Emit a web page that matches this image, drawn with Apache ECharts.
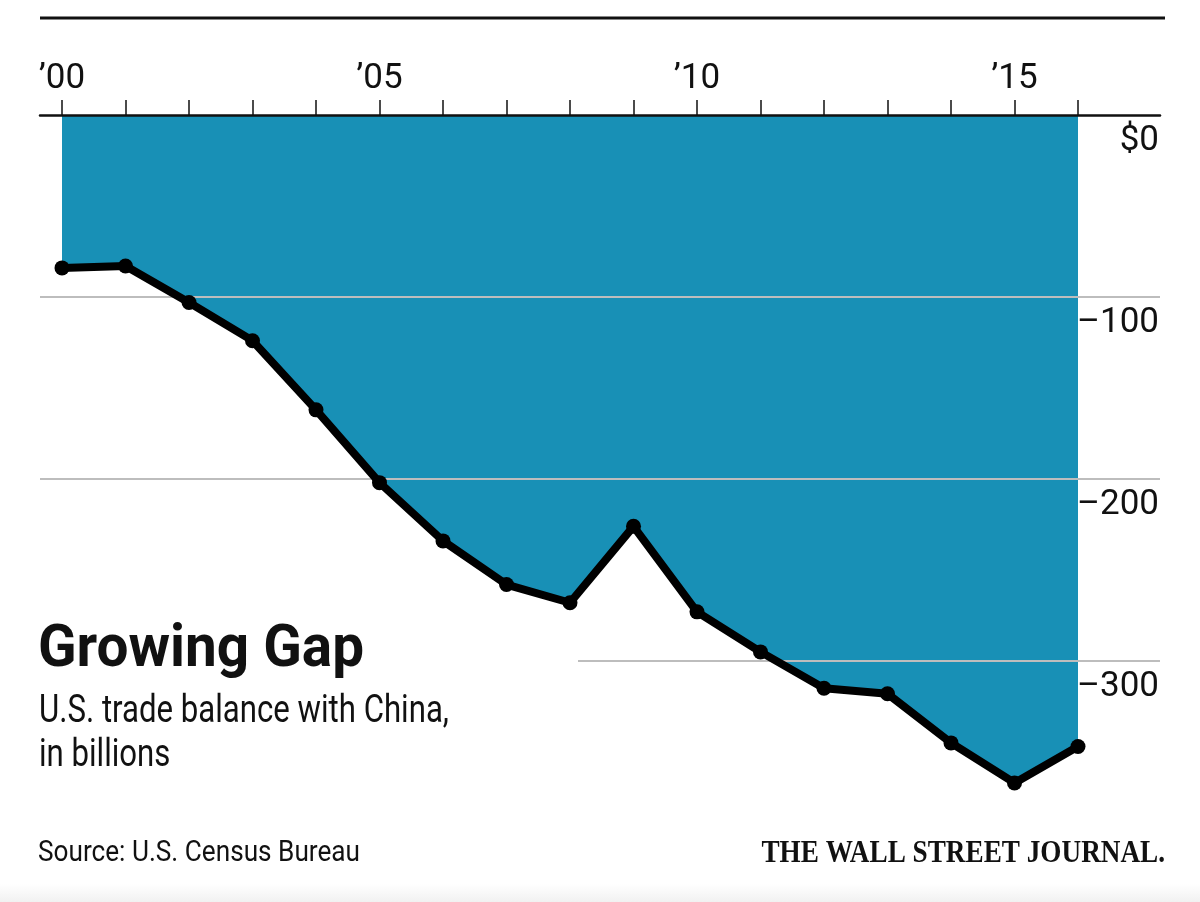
<!DOCTYPE html>
<html>
<head>
<meta charset="utf-8">
<script src="https://cdn.jsdelivr.net/npm/echarts@6/dist/echarts.min.js"></script>
<style>
html,body{margin:0;padding:0;background:#fff;}
#chart{width:1200px;height:902px;}
</style>
</head>
<body>
<div id="chart"></div>
<script>
// Data
const years = [2000,2001,2002,2003,2004,2005,2006,2007,2008,2009,2010,2011,2012,2013,2014,2015,2016];
const balance = [-84,-83,-103,-124,-162,-202,-234,-258,-268,-226,-273,-295,-315,-318,-345,-367,-347];
const xLabelYears = [2000,2005,2010,2015];
const yLabelValues = [0,-100,-200,-300];
const titleText = 'Growing Gap';
const subtitleLines = ['U.S. trade balance with China,', 'in billions'];
const sourceText = 'Source: U.S. Census Bureau';
const brandText = 'THE WALL STREET JOURNAL.';

const FONT = '"Roboto", "Open Sans", sans-serif';
const points = years.map((y, i) => [y, balance[i]]);

// horizontal condensing factor so a text line spans a target width (narrow newspaper face)
function fitScale(text, weight, size, target) {
  const ctx = document.createElement('canvas').getContext('2d');
  ctx.font = weight + ' ' + size + 'px ' + FONT;
  const w = ctx.measureText(text).width;
  return w > 0 ? target / w : 1;
}
const titleScale = fitScale(titleText, 'bold', 60, 326);
const subScale = fitScale(subtitleLines[0], 'normal', 38, 410);
const srcScale = fitScale(sourceText, 'normal', 29, 322);

const chart = echarts.init(document.getElementById('chart'), null, {renderer: 'canvas'});
chart.setOption({
  animation: false,
  backgroundColor: '#ffffff',
  grid: {left: 40, right: 40, top: 115, bottom: 59, containLabel: false},
  xAxis: {
    type: 'value',
    position: 'top',
    min: 1999.6535,
    max: 2017.2913,
    z: 2,
    axisLine: {show: true, onZero: false, lineStyle: {color: '#111', width: 2.5}},
    axisTick: {show: true, customValues: years, length: 15, inside: false, lineStyle: {color: '#111', width: 1.5}},
    axisLabel: {
      show: true,
      customValues: xLabelYears,
      formatter: v => '\u2019' + String(Math.round(v)).slice(2),
      fontFamily: FONT, fontSize: 35, color: '#111', margin: 18
    },
    splitLine: {show: false}
  },
  yAxis: {
    type: 'value',
    position: 'right',
    min: -400,
    max: 0,
    interval: 100,
    z: 2,
    axisLine: {show: false},
    axisTick: {show: false},
    axisLabel: {
      show: true,
      inside: true,
      customValues: yLabelValues,
      formatter: v => v === 0 ? '$0' : '\u2013' + Math.abs(v),
      fontFamily: FONT, fontSize: 35, color: '#111',
      verticalAlign: 'top', lineHeight: 35, padding: [9, 0, 0, 0], margin: 1
    },
    splitLine: {show: true, showMinLine: false, showMaxLine: false, lineStyle: {color: '#bdbdbd', width: 2}}
  },
  series: [
    {
      type: 'line',
      data: points,
      symbol: 'none',
      lineStyle: {width: 0},
      areaStyle: {color: '#1890b6', opacity: 1},
      z: 1,
      silent: true
    },
    {
      type: 'line',
      data: points,
      symbol: 'circle',
      symbolSize: 15,
      itemStyle: {color: '#000'},
      lineStyle: {color: '#000', width: 8, join: 'round'},
      z: 3,
      silent: true
    }
  ],
  graphic: [
    {type: 'rect', z: 10, shape: {x: 30, y: 654, width: 548, height: 14}, style: {fill: '#ffffff'}},
    {type: 'rect', z: 0, shape: {x: 0, y: 884, width: 1200, height: 18},
      style: {fill: new echarts.graphic.LinearGradient(0, 0, 0, 1, [{offset: 0, color: '#ffffff'}, {offset: 1, color: '#f1f1f1'}])}},
    {type: 'line', z: 10, shape: {x1: 40, y1: 18, x2: 1165, y2: 18}, style: {stroke: '#111', lineWidth: 3}},
    {type: 'text', z: 10, x: 38, y: 651, scaleX: titleScale, style: {text: titleText, x: 0, y: 0, fontFamily: FONT, fontWeight: 'bold', fontSize: 60, fill: '#111', align: 'left', verticalAlign: 'middle'}},
    {type: 'text', z: 10, x: 39, y: 712, scaleX: subScale, style: {text: subtitleLines[0], x: 0, y: 0, fontFamily: FONT, fontSize: 38, fill: '#111', align: 'left', verticalAlign: 'middle'}},
    {type: 'text', z: 10, x: 39, y: 756, scaleX: subScale, style: {text: subtitleLines[1], x: 0, y: 0, fontFamily: FONT, fontSize: 38, fill: '#111', align: 'left', verticalAlign: 'middle'}},
    {type: 'text', z: 10, x: 38, y: 854, scaleX: srcScale, style: {text: sourceText, x: 0, y: 0, fontFamily: FONT, fontSize: 29, fill: '#111', align: 'left', verticalAlign: 'middle'}},
    {type: 'text', z: 10, x: 1165, y: 854, scaleX: 0.85, style: {text: brandText, x: 0, y: 0, fontFamily: '"Liberation Serif", "DejaVu Serif", serif', fontWeight: 'bold', fontSize: 32, fill: '#111', align: 'right', verticalAlign: 'middle'}}
  ]
});
</script>
</body>
</html>
